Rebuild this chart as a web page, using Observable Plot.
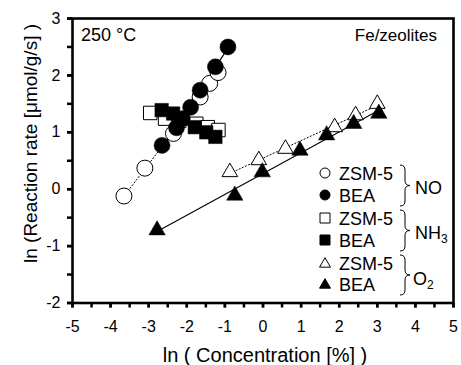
<!DOCTYPE html>
<html><head><meta charset="utf-8">
<script src="https://cdn.jsdelivr.net/npm/d3@7"></script>
<script src="https://cdn.jsdelivr.net/npm/@observablehq/plot@0.6"></script>
<style>
body{margin:0;background:#fff;}
#chart{position:relative;width:461px;height:365px;}
</style></head><body><div id="chart"></div>
<script>
// ---- data ----
const noZsmX  = [-3.65, -3.10, -2.35, -1.65, -1.40, -1.18];
const noZsmY  = [-0.12, 0.37, 0.98, 1.62, 1.86, 2.05];
const noBeaX  = [-2.65, -2.27, -2.12, -1.90, -1.65, -1.25, -0.92];
const noBeaY  = [0.77, 1.08, 1.24, 1.44, 1.74, 2.15, 2.50];
const nh3ZsmX = [-2.96, -2.57, -2.20, -1.75, -1.45, -1.17];
const nh3ZsmY = [1.34, 1.24, 1.20, 1.15, 1.09, 1.04];
const nh3BeaX = [-2.66, -2.36, -2.12, -1.79, -1.49, -1.25];
const nh3BeaY = [1.39, 1.33, 1.24, 1.09, 1.00, 0.92];
const o2ZsmX  = [-0.87, -0.11, 0.59, 1.88, 2.43, 3.00];
const o2ZsmY  = [0.30, 0.51, 0.71, 1.09, 1.30, 1.50];
const o2BeaX  = [-2.78, -0.74, -0.02, 0.97, 1.67, 2.38, 3.04];
const o2BeaY  = [-0.72, -0.11, 0.30, 0.68, 0.95, 1.15, 1.33];

const xTicks = [-5, -4, -3, -2, -1, 0, 1, 2, 3, 4, 5];
const yTicks = [-2, -1, 0, 1, 2, 3];
const xMinor = d3.range(-5, 5.001, 0.5);
const yMinor = d3.range(-2, 3.001, 0.5);
const xLabel = "ln ( Concentration [%] )";
const yLabel = "ln (Reaction rate [μmol/g/s] )";
const tempLabel = "250 °C";
const catLabel = "Fe/zeolites";
const catalysts = ["ZSM-5", "BEA"];
const reactants = [{base: "NO", sub: ""}, {base: "NH", sub: "3"}, {base: "O", sub: "2"}];

const rows = (xs, ys) => xs.map((x, i) => ({x, y: ys[i]}));
const noZ = rows(noZsmX, noZsmY), noB = rows(noBeaX, noBeaY);
const nhZ = rows(nh3ZsmX, nh3ZsmY), nhB = rows(nh3BeaX, nh3BeaY);
const oZ = rows(o2ZsmX, o2ZsmY), oB = rows(o2BeaX, o2BeaY);

const FONT = '"Liberation Sans", Arial, Helvetica, sans-serif';
const dotted = {x: "x", y: "y", ci: 0, stroke: "#000", strokeWidth: 1, strokeDasharray: "1.2,2.2"};
const solid = {x: "x", y: "y", ci: 0, stroke: "#000", strokeWidth: 1.1};
const open = {x: "x", y: "y", fill: "#fff", stroke: "#000", strokeWidth: 1};
const filled = {x: "x", y: "y", fill: "#000", stroke: "#000", strokeWidth: 0.5};
const fmt = d => String(d);

const plot = Plot.plot({
  width: 461, height: 365,
  marginLeft: 72, marginRight: 8, marginTop: 18, marginBottom: 62.5,
  x: {domain: [-5, 5], label: null},
  y: {domain: [-2, 3], label: null},
  style: {fontFamily: FONT, fontSize: "16px", color: "#000", background: "#fff", overflow: "visible"},
  marks: [
    Plot.linearRegressionY(noZ, dotted),
    Plot.linearRegressionY(nhZ, dotted),
    Plot.linearRegressionY(oZ, dotted),
    Plot.linearRegressionY(noB, solid),
    Plot.linearRegressionY(nhB, solid),
    Plot.linearRegressionY(oB, solid),
    Plot.dot(nhZ, {...open, symbol: "square", r: 7.6}),
    Plot.dot(noZ, {...open, symbol: "circle", r: 8}),
    Plot.dot(oZ, {...open, symbol: "triangle", r: 5.8}),
    Plot.dot(nhB, {...filled, symbol: "square", r: 7.6}),
    Plot.dot(noB, {...filled, symbol: "circle", r: 8}),
    Plot.dot(oB, {...filled, symbol: "triangle", r: 6.1}),
    Plot.axisX({ticks: xMinor, tickSize: 5, tickFormat: () => "", strokeWidth: 2.5, label: null}),
    Plot.axisX({ticks: xTicks, tickSize: 5, tickPadding: 13, strokeWidth: 2.5, fontSize: 16, tickFormat: fmt, label: null}),
    Plot.axisY({ticks: yMinor, tickSize: 5, tickFormat: () => "", strokeWidth: 2.5, label: null}),
    Plot.axisY({ticks: yTicks, tickSize: 5, tickPadding: 7, strokeWidth: 2.5, fontSize: 16, tickFormat: fmt, label: null}),
    Plot.frame({stroke: "#000", strokeWidth: 2.6})
  ]
});
document.getElementById("chart").appendChild(plot);

// ---- annotations and legend ----
const svg = d3.select(plot);
const g = svg.append("g").attr("font-family", FONT).attr("fill", "#000").attr("text-anchor", "start");
g.append("text").attr("x", 81).attr("y", 41).attr("font-size", 18).text(tempLabel);
g.append("text").attr("x", 437).attr("y", 41).attr("font-size", 17).attr("text-anchor", "end").text(catLabel);
g.append("text").attr("x", 265).attr("y", 362).attr("font-size", 20).attr("text-anchor", "middle").text(xLabel);
g.append("text").attr("transform", "translate(37,143.5) rotate(-90)").attr("font-size", 19)
  .attr("text-anchor", "middle").text(yLabel);

const rowY = [173, 195, 218, 240, 263, 284];
const shapes = ["circle", "square", "triangle"];
const symSize = {circle: Math.PI * 25, square: 100, triangle: 52};
reactants.forEach((re, ri) => {
  catalysts.forEach((cat, ci) => {
    const yy = rowY[ri * 2 + ci];
    const shape = shapes[ri];
    const sym = shape === "circle" ? d3.symbolCircle : shape === "square" ? d3.symbolSquare : d3.symbolTriangle;
    g.append("path").attr("d", d3.symbol(sym, symSize[shape])())
      .attr("transform", `translate(325,${yy + (shape === "triangle" ? 1 : 0)})`)
      .attr("fill", ci === 0 ? "#fff" : "#000").attr("stroke", "#000").attr("stroke-width", 1);
    g.append("text").attr("x", 339).attr("y", yy + 6.5).attr("font-size", 18).text(cat);
  });
  const y0 = rowY[ri * 2] - 8, y1 = rowY[ri * 2 + 1] + 11, x = 400, w = 10, r = w / 2, m = (y0 + y1) / 2;
  g.append("path")
    .attr("d", `M${x},${y0} Q${x + r},${y0} ${x + r},${y0 + r} L${x + r},${m - r} Q${x + r},${m} ${x + w},${m} Q${x + r},${m} ${x + r},${m + r} L${x + r},${y1 - r} Q${x + r},${y1} ${x},${y1}`)
    .attr("fill", "none").attr("stroke", "#000").attr("stroke-width", 1);
  const t = g.append("text").attr("x", ri === 2 ? 413 : 415).attr("y", m + (ri === 2 ? 10 : 8)).attr("font-size", 18);
  t.append("tspan").text(re.base);
  if (re.sub) t.append("tspan").attr("font-size", 12).attr("dy", 4).text(re.sub);
});
</script></body></html>
